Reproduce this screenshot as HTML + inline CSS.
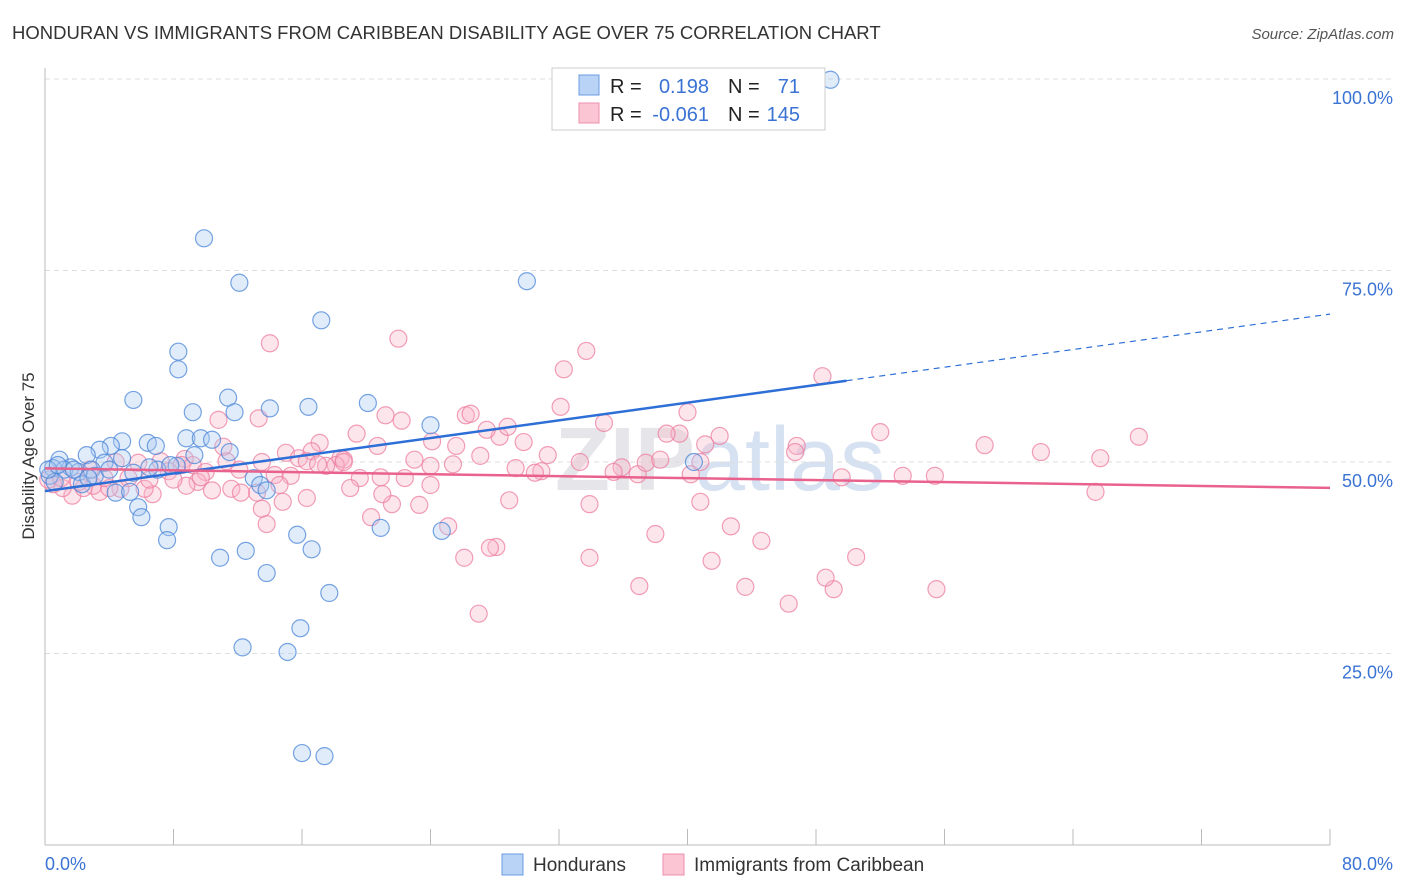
<!DOCTYPE html>
<html><head><meta charset="utf-8"><style>
body{margin:0;background:#fff;font-family:"Liberation Sans",sans-serif;}
svg{display:block}
</style></head><body>
<svg id="chart" width="1406" height="892">
<text x="12" y="39" font-size="18.5" fill="#333">HONDURAN VS IMMIGRANTS FROM CARIBBEAN DISABILITY AGE OVER 75 CORRELATION CHART</text>
<text x="1394" y="39" font-size="15" fill="#555" text-anchor="end" font-style="italic">Source: ZipAtlas.com</text>
<text x="34" y="456" font-size="17" fill="#333" text-anchor="middle" transform="rotate(-90 34 456)">Disability Age Over 75</text>
<text x="720" y="490" font-size="90" fill="#e6e6ea" text-anchor="middle" font-weight="bold">ZIP<tspan fill="#d6e2f2" font-weight="normal">atlas</tspan></text>
<g id="grid"></g><g id="axes"></g><g id="pts"></g><g id="lines"></g>
<g>
<rect x="552" y="68" width="273" height="62" fill="#fff" stroke="#ccc"/>
<rect x="579" y="75" width="20" height="20" fill="#b8d3f5" stroke="#6b9be0"/>
<rect x="579" y="103" width="20" height="20" fill="#fbc5d4" stroke="#ee8fab"/>
<text x="610" y="93" font-size="20" fill="#222">R =</text><text x="709" y="93" font-size="20" fill="#3a73d4" text-anchor="end">0.198</text>
<text x="728" y="93" font-size="20" fill="#222">N =</text><text x="800" y="93" font-size="20" fill="#3a73d4" text-anchor="end">71</text>
<text x="610" y="121" font-size="20" fill="#222">R =</text><text x="709" y="121" font-size="20" fill="#3a73d4" text-anchor="end">-0.061</text>
<text x="728" y="121" font-size="20" fill="#222">N =</text><text x="800" y="121" font-size="20" fill="#3a73d4" text-anchor="end">145</text>
</g>
<g>
<rect x="502" y="854" width="21" height="21" fill="#b8d3f5" stroke="#6b9be0"/>
<text x="533" y="871" font-size="19" fill="#333">Hondurans</text>
<rect x="663" y="854" width="21" height="21" fill="#fbc5d4" stroke="#ee8fab"/>
<text x="694" y="871" font-size="19" fill="#333">Immigrants from Caribbean</text>
</g>
</svg>
<script>
const yTicks=[25,50,75,100];
const yTickLabels=["25.0%","50.0%","75.0%","100.0%"];
const xTicks=[0,8,16,24,32,40,48,56,64,72,80];
const xEndLabels=["0.0%","80.0%"];
const blueX=[48.9,9.9,12.1,30.0,17.2,8.3,8.3,5.5,11.4,16.4,20.1,9.2,11.8,14.0,24.0,4.8,6.4,6.9,4.1,3.4,2.6,0.9,8.8,9.7,10.4,11.5,9.3,4.8,3.7,1.6,0.5,1.2,2.1,2.9,0.3,0.6,2.3,3.1,5.5,7.0,8.2,13.0,13.4,13.8,4.4,5.3,5.8,6.0,7.7,7.6,10.9,12.5,15.7,16.6,13.8,17.7,20.9,24.7,12.3,15.1,15.9,16.0,17.4,40.4,0.2,0.8,1.8,2.7,4.0,6.5,7.8];
const blueY=[99.9,79.2,73.4,73.6,68.5,64.4,62.1,58.1,58.4,57.2,57.7,56.5,56.5,57.0,54.8,52.7,52.5,52.1,52.1,51.6,50.9,50.3,53.1,53.1,52.9,51.3,50.9,50.5,49.9,49.3,49.2,49.0,48.7,49.0,48.2,47.4,47.1,48.2,48.6,49.0,49.5,47.9,47.0,46.3,46.0,46.1,44.1,42.8,41.5,39.8,37.5,38.4,40.5,38.6,35.5,32.9,41.4,41.0,25.8,25.2,28.3,12.0,11.6,50.0,49.0,49.6,49.0,47.9,49.0,49.3,49.6];
const pinkX=[14.0,22.0,33.7,32.3,48.4,40.0,34.8,32.1,26.2,26.5,21.2,22.2,10.8,13.3,52.0,68.1,58.5,62.0,65.7,46.8,46.7,42.0,39.5,38.7,41.1,29.8,28.3,27.5,28.8,25.6,24.1,20.7,19.4,17.1,16.6,15.0,15.8,18.4,18.6,18.1,17.5,16.3,13.5,11.3,11.1,8.7,7.2,5.8,4.4,8.5,7.7,9.2,10.0,12.1,14.3,15.3,19.6,20.9,22.4,23.0,24.0,25.4,27.1,29.3,30.9,31.3,33.3,35.9,36.9,37.4,35.4,40.2,49.6,53.4,55.4,65.4,55.5,50.5,49.1,48.6,46.3,44.6,43.6,41.5,42.7,40.8,38.0,37.0,33.9,33.9,28.9,28.1,27.7,26.1,27.0,25.1,23.3,21.6,21.0,20.3,19.0,16.3,14.8,13.8,13.5,13.2,11.6,10.4,9.5,8.8,6.7,6.2,4.7,3.4,3.0,1.7,1.1,0.5,0.2,2.4,4.0,5.2,1.0,2.1,12.2,17.0,18.6,24.0,30.5,38.3,40.8,9.7,14.6,8.0,6.5,3.7,2.8];
const pinkY=[65.5,66.1,64.5,62.1,61.2,56.5,55.1,57.2,56.1,56.3,56.1,55.4,55.5,55.7,53.9,53.3,52.2,51.3,50.5,52.1,51.3,53.4,53.7,53.7,52.3,52.6,53.3,54.2,54.6,52.1,52.7,52.1,53.7,52.5,51.4,51.2,50.5,50.5,50.3,49.6,49.5,50.1,50.0,50.1,52.0,50.4,50.1,49.9,50.0,49.6,48.8,49.6,48.7,49.0,48.3,48.2,47.9,48.0,47.9,50.3,49.5,49.7,50.8,49.2,48.8,50.9,50.0,49.3,48.4,49.9,48.7,48.4,48.0,48.2,48.2,46.1,33.4,37.6,33.4,34.9,31.5,39.7,33.7,37.1,41.6,44.8,40.6,33.8,37.5,44.5,45.0,38.9,38.8,37.5,30.2,41.6,44.4,44.5,45.8,42.8,46.6,45.3,44.8,41.9,43.9,46.0,46.5,46.3,47.4,46.9,45.8,46.5,46.5,46.1,46.9,45.6,46.6,47.1,47.7,46.6,46.6,47.9,47.9,47.4,46.0,49.7,50.0,47.0,48.6,50.3,50.0,48.0,47.0,47.7,47.7,47.9,49.0];

const NS="http://www.w3.org/2000/svg";
const X0=45,X1=1330,Y0=845,Y100=79;
const sx=v=>X0+(v/80)*(X1-X0);
const sy=v=>Y0-(v/100)*(Y0-Y100);
function mk(tag,attrs,parent){const e=document.createElementNS(NS,tag);for(const k in attrs)e.setAttribute(k,attrs[k]);parent.appendChild(e);return e;}
const grid=document.getElementById('grid'),axes=document.getElementById('axes'),pts=document.getElementById('pts'),lines=document.getElementById('lines');
yTicks.forEach((t,i)=>{
 const l=mk('line',{x1:X0,x2:1395,y1:sy(t),y2:sy(t),stroke:'#ddd','stroke-dasharray':'5,4'},grid);
 
 
 const tx=mk('text',{x:1393,y:sy(t)+25,'font-size':18,fill:'#3a73d4','text-anchor':'end'},axes);
 tx.textContent=yTickLabels[i];
 
 
});
const ya=mk('line',{x1:X0,x2:X0,y1:68,y2:Y0,stroke:'#bbb'},axes);


const xa=mk('line',{x1:X0,x2:X1,y1:Y0,y2:Y0,stroke:'#bbb'},axes);


xTicks.forEach(t=>{
 const l=mk('line',{x1:sx(t),x2:sx(t),y1:829,y2:Y0,stroke:'#bbb'},axes);
 
 
});
const xl0=mk('text',{x:45,y:870,'font-size':18,fill:'#3a73d4'},axes);xl0.textContent=xEndLabels[0];


const xl1=mk('text',{x:1393,y:870,'font-size':18,fill:'#3a73d4','text-anchor':'end'},axes);xl1.textContent=xEndLabels[1];


function drawPts(xs,ys,fill,stroke,name){
 xs.forEach((x,i)=>{
  const c=mk('circle',{cx:sx(x),cy:sy(ys[i]),r:8.5,fill:fill,'fill-opacity':0.35,stroke:stroke,'stroke-opacity':0.75,'stroke-width':1.2},pts);
  
  
 });
}
drawPts(pinkX,pinkY,'#f8b4c8','#ec7d9f','caribbean-point');
drawPts(blueX,blueY,'#a9c8f0','#4a86d8','honduran-point');
function fit(xs,ys){const n=xs.length;let mx=0,my=0;xs.forEach((x,i)=>{mx+=x;my+=ys[i];});mx/=n;my/=n;let a=0,b=0;xs.forEach((x,i)=>{a+=(x-mx)*(ys[i]-my);b+=(x-mx)**2;});const m=a/b;return [m,my-m*mx];}
const [bm,bb]=fit(blueX,blueY);const bMax=Math.max(...blueX)+1;
let l=mk('line',{x1:sx(0),y1:sy(bb),x2:sx(bMax),y2:sy(bb+bm*bMax),stroke:'#2d6fd6','stroke-width':2.5},lines);


l=mk('line',{x1:sx(bMax),y1:sy(bb+bm*bMax),x2:sx(80),y2:sy(bb+bm*80),stroke:'#2d6fd6','stroke-width':1.2,'stroke-dasharray':'6,5'},lines);


const [pm,pb]=fit(pinkX,pinkY);
l=mk('line',{x1:sx(0),y1:sy(pb),x2:sx(80),y2:sy(pb+pm*80),stroke:'#e8628d','stroke-width':2.5},lines);


</script>
</body></html>
